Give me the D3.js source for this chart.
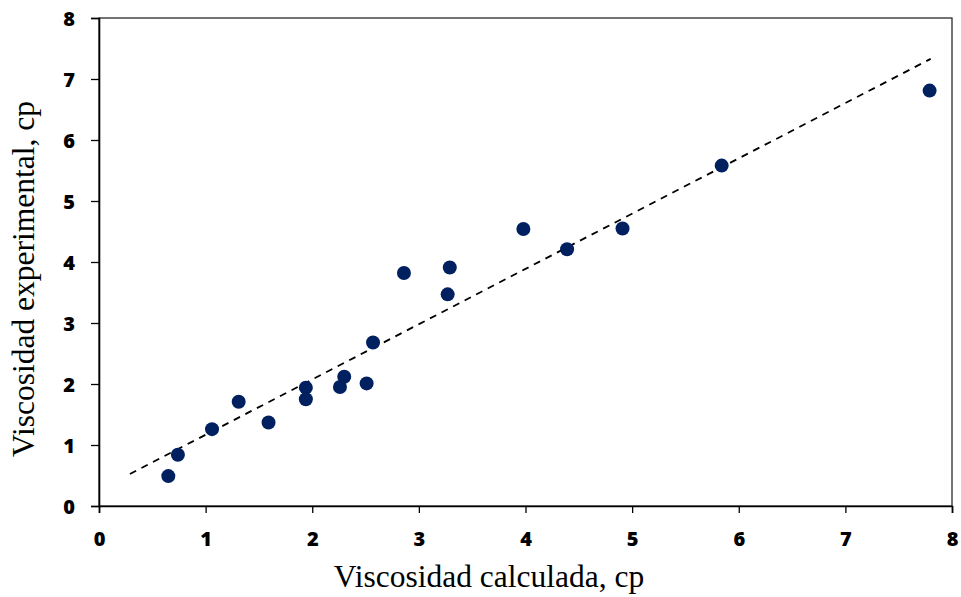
<!DOCTYPE html>
<html lang="es">
<head>
  <meta charset="UTF-8">
  <title>Viscosidad experimental vs calculada</title>
  <style type="text/css">
    body {
      margin: 0;
      background: #fff;
    }
    .axis-title {
      font-family: "Liberation Serif", "Times New Roman", serif;
      font-size: 31.5px;
      fill: #000;
    }
  </style>
  <script src="https://cdn.jsdelivr.net/npm/d3@7"></script>
</head>
<body>
  <div class="main"></div>
  <script>
    // data
    var calculada    = [0.65, 0.74, 1.06, 1.31, 1.59, 1.94, 1.94, 2.26, 2.30, 2.51, 2.57, 2.86, 3.27, 3.29, 3.98, 4.39, 4.91, 5.84, 7.79];
    var experimental = [0.49, 0.84, 1.26, 1.71, 1.37, 1.94, 1.75, 1.95, 2.12, 2.01, 2.68, 3.82, 3.47, 3.91, 4.54, 4.21, 4.55, 5.58, 6.81];
    // dashed trend line ends
    var trendX = [0.29, 7.80];
    var trendY = [0.525, 7.33];
    var xTicks = [0, 1, 2, 3, 4, 5, 6, 7, 8];
    var yTicks = [0, 1, 2, 3, 4, 5, 6, 7, 8];

    var W = 961, H = 597;
    var margin = {top: 18, right: 9, bottom: 91, left: 99},
        width = W - margin.left - margin.right,
        height = H - margin.top - margin.bottom;

    var x = d3.scaleLinear().domain([0, 8]).range([0, width]);
    var y = d3.scaleLinear().domain([0, 8]).range([height, 0]);

    var svg = d3.select(".main").append("svg")
        .attr("width", W)
        .attr("height", H)
      .append("g")
        .attr("transform", "translate(" + margin.left + "," + margin.top + ")");

    // plot frame (top / right)
    svg.append("rect")
        .attr("x", 0).attr("y", 0)
        .attr("width", width).attr("height", height)
        .attr("fill", "none")
        .attr("stroke", "#222")
        .attr("stroke-width", 1.25);

    function styleAxis(g) {
      g.attr("font-family", "'Open Sans', sans-serif")
       .attr("font-size", 20)
       .attr("font-weight", 800);
      g.select(".domain").attr("stroke", "#000").attr("stroke-width", 1.6);
      g.selectAll(".tick line").attr("stroke", "#000").attr("stroke-width", 1.3);
      g.selectAll(".tick text").attr("fill", "#000");
    }

    // x axis
    var gx = svg.append("g")
        .attr("class", "x axis")
        .attr("transform", "translate(0," + height + ")")
        .call(d3.axisBottom(x).tickValues(xTicks).tickSize(7).tickPadding(19).tickFormat(d3.format("d")));
    styleAxis(gx);

    // y axis
    var gy = svg.append("g")
        .attr("class", "y axis")
        .call(d3.axisLeft(y).tickValues(yTicks).tickSize(8).tickPadding(16).tickFormat(d3.format("d")));
    styleAxis(gy);
    gy.selectAll(".tick text").attr("dy", "0.36em");

    // trend line
    var line = d3.line()
        .x(function(d) { return x(d[0]); })
        .y(function(d) { return y(d[1]); });
    svg.append("path")
        .datum(d3.zip(trendX, trendY))
        .attr("d", line)
        .attr("fill", "none")
        .attr("stroke", "#000")
        .attr("stroke-width", 1.8)
        .attr("stroke-dasharray", "7,6");

    // points
    svg.selectAll("circle.dot")
        .data(d3.zip(calculada, experimental))
      .enter().append("circle")
        .attr("class", "dot")
        .attr("cx", function(d) { return x(d[0]); })
        .attr("cy", function(d) { return y(d[1]); })
        .attr("r", 7)
        .attr("fill", "#002060");

    // axis titles
    d3.select("svg").append("text")
        .attr("class", "axis-title")
        .attr("x", 489)
        .attr("y", 587)
        .attr("text-anchor", "middle")
        .text("Viscosidad calculada, cp");

    d3.select("svg").append("text")
        .attr("class", "axis-title")
        .attr("transform", "translate(34,279) rotate(-90)")
        .attr("text-anchor", "middle")
        .text("Viscosidad experimental, cp");
  </script>
</body>
</html>
